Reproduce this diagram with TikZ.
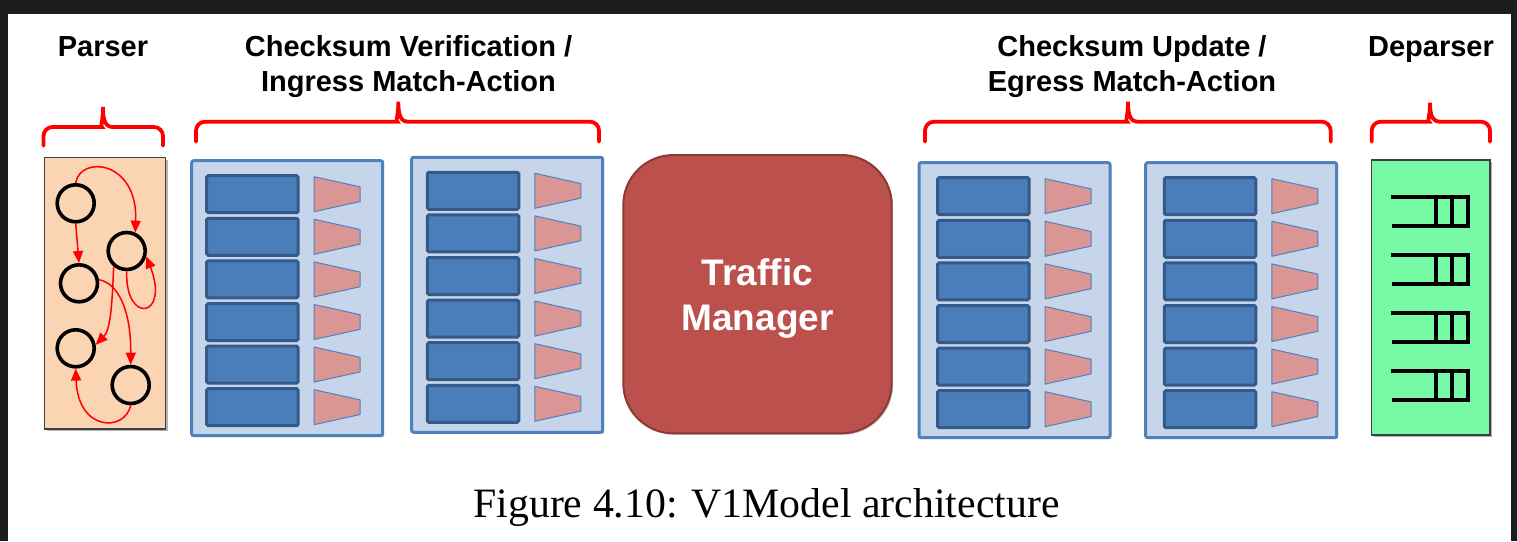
\documentclass[tikz,border=0pt]{standalone}
\usepackage{fontspec}
\setmainfont{Liberation Serif}
\setsansfont{Liberation Sans}
\usetikzlibrary{arrows.meta,shadows}
\definecolor{framecol}{HTML}{1C1D1F}
\definecolor{bracered}{HTML}{FF0000}
\definecolor{peach}{HTML}{FBD4B4}
\definecolor{mint}{HTML}{77F9A6}
\definecolor{tmred}{HTML}{BC504C}
\definecolor{tmborder}{HTML}{8C3A37}
\definecolor{boxfill}{HTML}{C6D5EA}
\definecolor{boxline}{HTML}{4F81BD}
\definecolor{rowfill}{HTML}{4A7EBB}
\definecolor{rowline}{HTML}{335A88}
\definecolor{trapfill}{HTML}{D99694}
\newcommand\mablock[4]{%
  \node[mabox] (#1) at (#2+95.5,#3+137.5) {};
  \foreach \i in {0,...,5} {
    \node[marow] (#1r\i) at (#2+#4+45.75,#3+15+42.6*\i+18.5) {};
    \draw[matrap] (#2+#4+107.5,#3+15+42.6*\i+1) -- (#2+#4+153.5,#3+15+42.6*\i+11.2)
      -- (#2+#4+153.5,#3+15+42.6*\i+25.8) -- (#2+#4+107.5,#3+15+42.6*\i+36) -- cycle;
  }
}
\newcommand\redbrace[6]{% x0 x1 xc yh yb yt
  \draw[bracestyle] (#1,#5) [rounded corners=9pt] -- (#1,#4) -- (#3-10,#4) [sharp corners]
    .. controls (#3-3,#4) and (#3,#4-5) .. (#3,#6)
    .. controls (#3,#4-5) and (#3+3,#4) .. (#3+10,#4) [rounded corners=9pt] -- (#2,#4) -- (#2,#5);
}
\begin{document}
\begin{tikzpicture}[x=1pt,y=-1pt,
  title/.style={font=\sffamily\bfseries\fontsize{29}{35}\selectfont, inner sep=0pt},
  bracestyle/.style={draw=bracered, line width=3.8pt, line cap=round},
  parserbox/.style={draw=black!75, line width=1.5pt, fill=peach, minimum width=121pt, minimum height=271.5pt, inner sep=0pt,
    drop shadow={shadow xshift=2pt, shadow yshift=-2pt, opacity=0.3, fill=black}},
  deparserbox/.style={draw=black!75, line width=1.5pt, fill=mint, minimum width=118.3pt, minimum height=275pt, inner sep=0pt,
    drop shadow={shadow xshift=2pt, shadow yshift=-2pt, opacity=0.3, fill=black}},
  st/.style={circle, draw=black, line width=3.6pt, minimum size=37pt, inner sep=0pt},
  fsm/.style={draw=bracered, line width=1.5pt, -{Triangle[length=12pt,width=10pt]}},
  mabox/.style={draw=boxline, line width=3pt, fill=boxfill, rounded corners=2pt, minimum width=191pt, minimum height=275pt, inner sep=0pt,
    drop shadow={shadow xshift=1.5pt, shadow yshift=-1.5pt, opacity=0.15, fill=black}},
  marow/.style={draw=rowline, line width=3pt, fill=rowfill, rounded corners=1.5pt, minimum width=91.5pt, minimum height=37pt, inner sep=0pt},
  matrap/.style={draw=boxline, line width=1pt, fill=trapfill, line join=round},
  tmbox/.style={draw=tmborder, line width=2pt, fill=tmred, rounded corners=50pt, minimum width=268.4pt, minimum height=278.3pt, inner sep=0pt,
    drop shadow={shadow xshift=1.5pt, shadow yshift=-1.5pt, opacity=0.2, fill=black}},
  tmtext/.style={font=\sffamily\bfseries\fontsize{37}{45}\selectfont, text=white, align=center, inner sep=0pt},
  queue/.style={draw=black, line width=4pt, line join=miter}
]
% frame and page
\fill[framecol] (0,0) rectangle (1517,541);
\fill[white] (8,14) rectangle (1511,541);

% titles
\node[title, anchor=base] (tparser) at (103,56.7) {Parser};
\node[title, anchor=base, align=center] (tingress) at (408.5,91.7) {Checksum Verification /\\Ingress Match-Action};
\node[title, anchor=base, align=center] (tegress) at (1132,91.7) {Checksum Update /\\Egress Match-Action};
\node[title, anchor=base] (tdeparser) at (1431,56.7) {Deparser};

% braces
\redbrace{43.5}{163}{103}{127}{145.7}{107}
\redbrace{196}{599}{398.3}{121.7}{141.7}{101.7}
\redbrace{925}{1330.7}{1128}{121.7}{141.7}{101.7}
\redbrace{1371.7}{1490}{1430}{121.7}{141.7}{102.7}

% parser
\node[parserbox] (parser) at (105,293.3) {};
\node[st] (c1) at (75.7,203.3) {};
\node[st] (c2) at (126.7,251) {};
\node[st] (c3) at (79,283.3) {};
\node[st] (c4) at (75.7,348.3) {};
\node[st] (c5) at (130.7,385) {};
\draw[fsm] (c1.north) .. controls (80,155) and (138,160) .. (c2.65);
\draw[fsm] (c1.south) -- (c3.north);
\draw[fsm] (c2.south) .. controls (125,325) and (170,318) .. (c2.-15);
\draw[fsm] (c2.230) .. controls (112,310) and (110,330) .. (c4.10);
\draw[fsm] (c3.10) .. controls (118,283) and (131,310) .. (c5.north);
\draw[fsm] (c5.south) .. controls (125,432) and (78,432) .. (c4.south);

% match-action blocks
\mablock{ing1}{191.7}{160.7}{15}
\mablock{ing2}{411.7}{157.3}{15.6}
\mablock{egr1}{919}{162.7}{18.6}
\mablock{egr2}{1145.7}{162.7}{18.6}

% traffic manager
\node[tmbox] (tm) at (757.5,294.2) {};
\node[tmtext] (tmlabel) at (757.5,298.5) {Traffic\\Manager};

% deparser
\node[deparserbox] (deparser) at (1430.8,297.5) {};
\foreach \i in {0,...,3} {
  \draw[queue] (1391,197.3+58*\i) -- (1468,197.3+58*\i) -- (1468,226+58*\i) -- (1392,226+58*\i);
  \draw[queue] (1436,197.3+58*\i) -- (1436,226+58*\i);
  \draw[queue] (1451.7,197.3+58*\i) -- (1451.7,226+58*\i);
}

% caption
\node[font=\rmfamily\fontsize{41.8}{48}\selectfont, anchor=base, inner sep=0pt] (caption) at (766.5,517) {Figure 4.10: V1Model architecture};
\end{tikzpicture}
\end{document}
